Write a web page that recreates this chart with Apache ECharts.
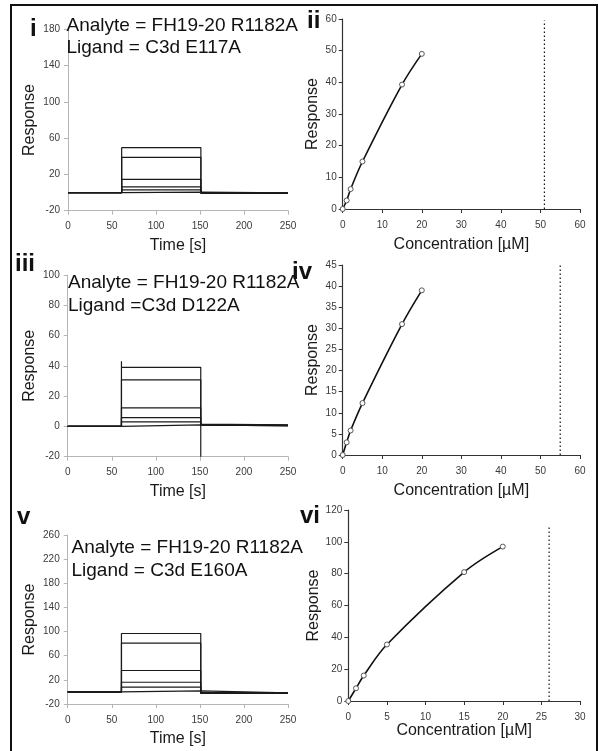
<!DOCTYPE html>
<html>
<head>
<meta charset="utf-8">
<script src="https://cdn.jsdelivr.net/npm/echarts@6/dist/echarts.min.js"></script>
<style>
  html, body { margin: 0; padding: 0; background: #fff; }
  #chart { width: 599px; height: 751px; }
</style>
</head>
<body>
<div id="chart"></div>
<script>
// ---- Sensorgram timing (s) ----
const timeTicks = [0, 50, 100, 150, 200, 250];
const injectStart = 61;
const injectEnd = 151;
const runEnd = 250;

// ---- C3d E117A (panels i, ii) ----
const concE117A = [0, 1, 2, 5, 15, 20];
const respE117A = [0, 2.7, 6.3, 15, 39.3, 49];
const plateauE117A = [0.5, 2.9, 6.3, 14.6, 38.8, 49.5];
const afterE117A = [-0.3, -0.4, -0.5, -0.5, -0.6, -0.6];
const kdE117A = [51, 0, 59.5]; // x, from, to

// ---- C3d D122A (panels iii, iv) ----
const concD122A = [0, 1, 2, 5, 15, 20];
const respD122A = [0, 3, 5.8, 12.3, 31, 39];
const plateauD122A = [1.0, 3.0, 5.8, 12.3, 30.8, 39];
const afterD122A = [0.5, 0.8, 1.0, 1.2, 1.4, 1.6];
const spikeD122A = [43, -20]; // injection start / end artefacts
const kdD122A = [55, 0, 45];

// ---- C3d E160A (panels v, vi) ----
const concE160A = [0, 1, 2, 5, 15, 20];
const respE160A = [0, 8, 16, 35.5, 81, 97];
const plateauE160A = [1.7, 8, 16, 35.5, 81, 96.8];
const afterE160A = [-1.5, -1.5, -1.8, -2, -2, -2];
const kdE160A = [26, 0, 110];

// ---- Axis ticks ----
const sensTicksE117A = [-20, 20, 60, 100, 140, 180];
const sensTicksE160A = [-20, 20, 60, 100, 140, 180, 220, 260];

const chart = echarts.init(document.getElementById('chart'), null, { renderer: 'canvas' });

const tickFont = '"Liberation Sans", Arial, sans-serif';
const titleFont = '"Liberation Sans", Arial, sans-serif';

function sensTraces(gridIdx, plateaus, after, spike) {
  return plateaus.map((lvl, i) => {
    const pts = [[0, 0], [injectStart, 0]];
    const top = i === plateaus.length - 1;
    if (spike && top) pts.push([injectStart, spike[0]]);
    pts.push([injectStart, lvl], [injectEnd, lvl]);
    if (spike && top) pts.push([injectEnd, spike[1]]);
    pts.push([injectEnd, after[i]], [runEnd, after[i] * (spike ? 0.6 : 1)]);
    return {
      type: 'line', xAxisIndex: gridIdx, yAxisIndex: gridIdx, data: pts,
      symbol: 'none', silent: true, animation: false,
      lineStyle: { color: '#1a1a1a', width: 1.2 }
    };
  });
}

function bindSeries(gridIdx, conc, resp, kd) {
  return [
    {
      type: 'line', xAxisIndex: gridIdx, yAxisIndex: gridIdx,
      data: conc.map((c, i) => [c, resp[i]]),
      smooth: 0.35, symbol: 'circle', symbolSize: 5, animation: false,
      lineStyle: { color: '#111', width: 1.6 },
      itemStyle: { color: '#fff', borderColor: '#555', borderWidth: 1 }
    },
    {
      type: 'line', xAxisIndex: gridIdx, yAxisIndex: gridIdx,
      data: [[kd[0], kd[1]], [kd[0], kd[2]]],
      symbol: 'none', animation: false,
      lineStyle: { color: '#111', width: 1.2, type: [1.5, 2.5] }
    }
  ];
}

function sensX(grid) {
  return {
    type: 'value', gridIndex: grid, min: 0, max: 250, interval: 50,
    name: 'Time [s]', nameLocation: 'middle', nameGap: 27,
    nameTextStyle: { fontFamily: titleFont, fontSize: 16, color: '#1a1a1a' },
    axisLine: { onZero: false, lineStyle: { color: '#b5b5b5', width: 1 } },
    axisTick: { show: true, length: 4, lineStyle: { color: '#b5b5b5' } },
    axisLabel: { fontFamily: tickFont, fontSize: 10, color: '#3a3a3a', margin: 11 },
    splitLine: { show: false }
  };
}
function sensY(grid, min, max, ticks, interval) {
  const ax = {
    type: 'value', gridIndex: grid, min: min, max: max,
    name: 'Response', nameLocation: 'middle', nameGap: 30,
    nameTextStyle: { fontFamily: titleFont, fontSize: 16, color: '#1a1a1a' },
    axisLine: { show: true, onZero: false, lineStyle: { color: '#b5b5b5', width: 1 } },
    axisTick: { show: true, length: 4, lineStyle: { color: '#b5b5b5' } },
    axisLabel: { fontFamily: tickFont, fontSize: 10, color: '#3a3a3a', margin: 8 },
    splitLine: { show: false }
  };
  if (ticks) {
    ax.axisTick.customValues = ticks;
    ax.axisLabel.customValues = ticks;
  } else {
    ax.interval = interval;
  }
  return ax;
}
function bindX(grid, max, interval, gap) {
  return {
    type: 'value', gridIndex: grid, min: 0, max: max, interval: interval,
    name: 'Concentration [\u00b5M]', nameLocation: 'middle', nameGap: gap,
    nameTextStyle: { fontFamily: titleFont, fontSize: 16, color: '#1a1a1a' },
    axisLine: { onZero: false, lineStyle: { color: '#333', width: 1.2 } },
    axisTick: { show: true, length: 4, lineStyle: { color: '#333' } },
    axisLabel: { fontFamily: tickFont, fontSize: 10, color: '#3a3a3a', margin: 11 },
    splitLine: { show: false }
  };
}
function bindY(grid, max, interval) {
  return {
    type: 'value', gridIndex: grid, min: 0, max: max, interval: interval,
    name: 'Response', nameLocation: 'middle', nameGap: 22,
    nameTextStyle: { fontFamily: titleFont, fontSize: 16, color: '#1a1a1a' },
    axisLine: { show: true, onZero: false, lineStyle: { color: '#333', width: 1.2 } },
    axisTick: { show: true, length: 4, lineStyle: { color: '#333' } },
    axisLabel: { fontFamily: tickFont, fontSize: 10, color: '#3a3a3a', margin: 6 },
    splitLine: { show: false }
  };
}

const numeralFont = 'bold 24px "Liberation Sans", Arial, sans-serif';
const noteFont = '19px "Liberation Sans", Arial, sans-serif';
function label(text, x, y, font) {
  return { type: 'text', x: x, y: y, z: 50, silent: true,
    style: { text: text, font: font || numeralFont, fill: '#111', verticalAlign: 'bottom' } };
}

const option = {
  backgroundColor: '#fff',
  animation: false,
  grid: [
    { left: 68, top: 29.4, width: 220, height: 181.3 },
    { left: 342.7, top: 19, width: 237.3, height: 190 },
    { left: 67.7, top: 275, width: 220.3, height: 181.7 },
    { left: 342.7, top: 265, width: 237.3, height: 190 },
    { left: 67.7, top: 535, width: 220.3, height: 169 },
    { left: 348.3, top: 510, width: 231.7, height: 191 }
  ],
  xAxis: [
    sensX(0), bindX(1, 60, 10, 28),
    sensX(2), bindX(3, 60, 10, 28),
    sensX(4), bindX(5, 30, 5, 20)
  ],
  yAxis: [
    sensY(0, -20, 180, sensTicksE117A), bindY(1, 60, 10),
    sensY(2, -20, 100, null, 20), bindY(3, 45, 5),
    sensY(4, -20, 260, sensTicksE160A), bindY(5, 120, 20)
  ],
  series: [].concat(
    sensTraces(0, plateauE117A, afterE117A, null),
    bindSeries(1, concE117A, respE117A, kdE117A),
    sensTraces(2, plateauD122A, afterD122A, spikeD122A),
    bindSeries(3, concD122A, respD122A, kdD122A),
    sensTraces(4, plateauE160A, afterE160A, null),
    bindSeries(5, concE160A, respE160A, kdE160A)
  ),
  graphic: [
    { type: 'rect', silent: true, z: 60,
      shape: { x: 11, y: 5, width: 586, height: 760 },
      style: { fill: 'none', stroke: '#111', lineWidth: 2 } },
    label('i', 30, 41),
    label('ii', 307, 33),
    label('iii', 15, 276),
    label('iv', 292, 284),
    label('v', 17, 529),
    label('vi', 300, 528),
    label('Analyte = FH19-20 R1182A', 66.5, 35, noteFont),
    label('Ligand = C3d E117A', 66.5, 57, noteFont),
    label('Analyte = FH19-20 R1182A', 68, 292, noteFont),
    label('Ligand =C3d D122A', 68, 315, noteFont),
    label('Analyte = FH19-20 R1182A', 71.5, 557, noteFont),
    label('Ligand = C3d E160A', 71.5, 580, noteFont)
  ]
};
chart.setOption(option);
</script>
</body>
</html>
